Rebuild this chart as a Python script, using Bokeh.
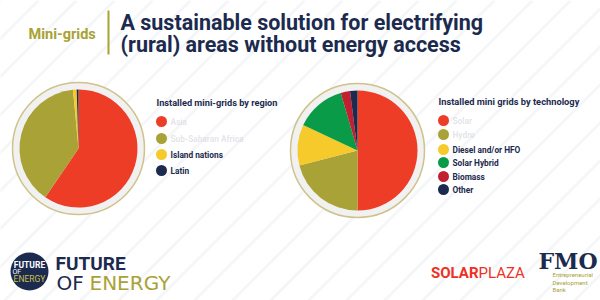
import numpy as np
from bokeh.plotting import figure
from bokeh.models import Range1d
from bokeh.core.properties import value
from bokeh.embed import file_html
from bokeh.resources import INLINE

# ---- data ----
region_labels = ["Asia", "Sub-Saharan Africa", "Island nations", "Latin"]
region_values = [59.5, 39.0, 1.0, 0.5]
region_colors = ["#EE3D26", "#A9A236", "#F5CA2A", "#1B2A4E"]

tech_labels = ["Solar", "Hydro", "Diesel and/or HFO", "Solar Hybrid", "Biomass", "Other"]
tech_values = [50.0, 21.0, 11.0, 13.5, 2.5, 2.0]
tech_colors = ["#EE3D26", "#A9A236", "#F5CA2A", "#0A9B48", "#C0202F", "#1B2A4E"]

title_lines = ["A sustainable solution for electrifying", "(rural) areas without energy access"]
NAVY = "#1B2A4E"
OLIVE = "#A9A236"
H = 300
F = value("Roboto")

p = figure(width=600, height=300, output_backend="svg", toolbar_location=None,
           x_range=Range1d(0, 600), y_range=Range1d(0, 300), min_border=0)
p.axis.visible = False
p.grid.visible = False
p.outline_line_color = None
p.background_fill_color = "white"

# faint diagonal stripes
xs0 = np.arange(-300, 700, 38)
p.segment(x0=xs0, y0=np.zeros_like(xs0), x1=xs0 + 300, y1=np.full_like(xs0, 300),
          line_color="#eef0f2", line_width=3, line_alpha=0.6)

def pie(cx, cy, r, ring_r, vals, colors):
    vals = np.asarray(vals, dtype=float)
    frac = vals / vals.sum()
    cum = np.concatenate([[0], np.cumsum(frac)])
    start = np.pi / 2 - cum[:-1] * 2 * np.pi
    end = np.pi / 2 - cum[1:] * 2 * np.pi
    p.circle(x=[cx], y=[cy], radius=ring_r, fill_color="#f1f1f1",
             line_color="#cfc28a", line_width=1.5)
    p.wedge(x=cx, y=cy, radius=r, start_angle=start, end_angle=end,
            direction="clock", fill_color=colors, line_color=None)

pie(78, H - 148, 59, 66, region_values, region_colors)
pie(357, H - 150, 60, 67, tech_values, tech_colors)

def legend(x, ty, ys, labels, colors, title, blur, tsize):
    p.text(x=[x - 5], y=[H - ty], text=[title], text_font=F,
           text_font_style="bold", text_font_size=tsize, text_color=NAVY,
           text_baseline="middle")
    yy = [H - v for v in ys]
    p.scatter(x=[x] * len(ys), y=yy, size=11, marker="circle",
              fill_color=colors, line_color=None)
    alphas = [0.25 if b else 1.0 for b in blur]
    cols = ["#8a93a8" if b else NAVY for b in blur]
    p.text(x=[x + 9] * len(ys), y=yy, text=labels, text_font=F,
           text_font_style="bold", text_font_size="8.3px", text_color=cols,
           text_alpha=alphas, text_baseline="middle")

legend(161, 102, [121, 138, 154, 170], region_labels, region_colors,
       "Installed mini-grids by region", [True, True, False, False], "9.2px")
legend(443, 101, [120, 134, 149, 162, 176, 189], tech_labels, tech_colors,
       "Installed mini grids by technology", [True, True, False, False, False, False], "9.3px")

# header
p.text(x=[28], y=[H - 34], text=["Mini-grids"], text_font=F,
       text_font_style="bold", text_font_size="14.5px", text_color=OLIVE,
       text_baseline="middle")
p.segment(x0=[108], y0=[H - 10], x1=[108], y1=[H - 54], line_color=OLIVE, line_width=2)
p.text(x=[120, 120], y=[H - 22, H - 44], text=title_lines, text_font=F,
       text_font_style="bold", text_font_size="21.5px", text_color=NAVY,
       text_baseline="middle")

# Future of Energy logo
p.circle(x=[29], y=[H - 271], radius=19, fill_color=NAVY, line_color=None)
p.text(x=[29], y=[H - 264], text=["FUTURE"], text_font=F, text_font_style="bold",
       text_font_size="8.5px", text_color="white", text_align="center",
       text_baseline="middle")
p.text(x=[12], y=[H - 271], text=["OF"], text_font=F,
       text_font_size="7px", text_color="white", text_baseline="middle")
p.text(x=[29], y=[H - 278], text=["ENERGY"], text_font=F,
       text_font_size="8.5px", text_color="#C9C04A", text_align="center",
       text_baseline="middle")
p.text(x=[55], y=[H - 263], text=["FUTURE"], text_font=F,
       text_font_style="bold", text_font_size="19px", text_color=NAVY,
       text_baseline="middle")
p.text(x=[56], y=[H - 282], text=["OF"], text_font=value("DejaVu Sans"),
       text_font_size="20px", text_color=NAVY, text_baseline="middle")
p.text(x=[89], y=[H - 282], text=["ENERGY"], text_font=value("DejaVu Sans"),
       text_font_size="20px", text_color=OLIVE, text_baseline="middle")

# SOLARPLAZA
p.text(x=[478], y=[H - 272], text=["SOLAR"], text_font=F,
       text_font_style="bold", text_font_size="15px", text_color="#EE3124",
       text_baseline="middle", text_align="right")
p.text(x=[478], y=[H - 272], text=["PLAZA"], text_font=F,
       text_font_size="15px", text_color="#EE3124", text_baseline="middle")

# FMO
p.text(x=[538], y=[H - 260], text=["FMO"], text_font=value("DejaVu Serif"),
       text_font_style="bold", text_font_size="22px", text_color=NAVY,
       text_baseline="middle")
p.text(x=[552, 552, 552], y=[H - 274, H - 282, H - 289],
       text=["Entrepreneurial", "Development", "Bank"], text_font=F,
       text_font_size="6px", text_color=OLIVE, text_baseline="middle")

open("out.html", "w").write(file_html(p, INLINE))
